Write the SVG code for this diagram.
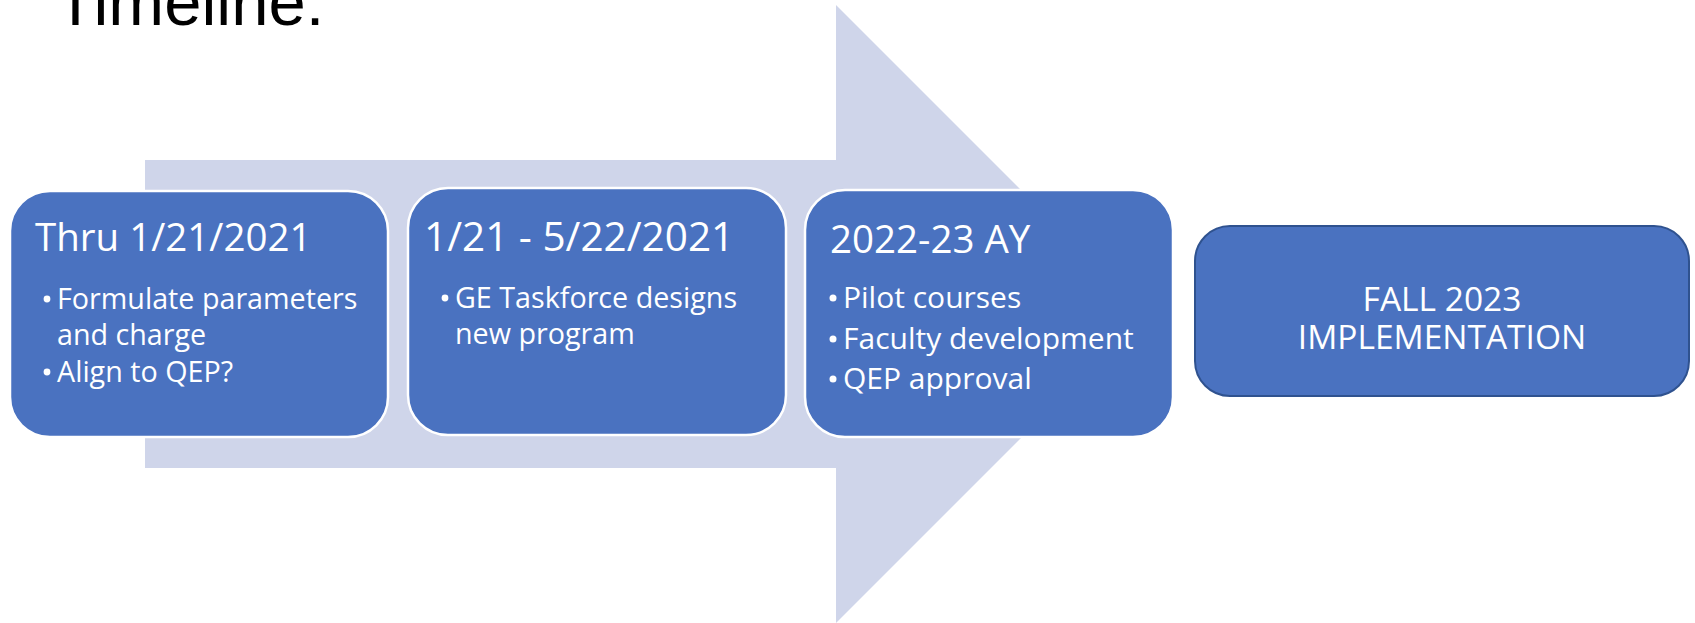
<svg xmlns="http://www.w3.org/2000/svg" width="1695" height="623" viewBox="0 0 1695 623">
<style>
.box{fill:#4A72C0;stroke:#FFFFFF;stroke-width:2.5}
.box4{fill:#4A72C0;stroke:#2F528F;stroke-width:2}
.hd{font-family:"Open Sans","Noto Sans",sans-serif;font-size:38.5px;fill:#FFFFFF}
.hd2{font-family:"Open Sans","Noto Sans",sans-serif;font-size:40.5px;fill:#FFFFFF}
.bl{font-family:"Open Sans","Noto Sans",sans-serif;font-size:28.7px;fill:#FFFFFF}
.bl3{font-family:"Open Sans","Noto Sans",sans-serif;font-size:30px;fill:#FFFFFF}
.dot{fill:#FFFFFF}
.ct{font-family:"Open Sans","Noto Sans",sans-serif;font-size:33.5px;fill:#FFFFFF;text-anchor:middle}
.ttl{font-family:"Liberation Sans",Arial,sans-serif;font-size:67px;fill:#000000}
</style>
<rect width="1695" height="623" fill="#FFFFFF"/>
<text class="ttl" x="55" y="25">Timeline:</text>
<g id="arrow">
<polygon points="145,160 836,160 836,5 1145,314 836,623 836,468 145,468" fill="#CFD5EA"/>
</g>
<g id="node1">
<rect class="box" x="10" y="191" width="378" height="246" rx="40"/>
<text class="hd" x="35" y="251">Thru 1/21/2021</text>
<circle class="dot" cx="47" cy="299" r="3.4"/>
<text class="bl" x="57" y="309">Formulate parameters</text>
<text class="bl" x="57" y="345">and charge</text>
<circle class="dot" cx="47" cy="372" r="3.4"/>
<text class="bl" x="57" y="382">Align to QEP?</text>
</g>
<g id="node2">
<rect class="box" x="408" y="188" width="378" height="247" rx="40"/>
<text class="hd2" x="424" y="251">1/21 - 5/22/2021</text>
<circle class="dot" cx="445" cy="298" r="3.4"/>
<text class="bl" x="455" y="308">GE Taskforce designs</text>
<text class="bl" x="455" y="344">new program</text>
</g>
<g id="node3">
<rect class="box" x="805" y="190" width="368" height="247" rx="40"/>
<text class="hd" x="830" y="253">2022-23 AY</text>
<circle class="dot" cx="833" cy="298" r="3.5"/>
<text class="bl3" x="843" y="308">Pilot courses</text>
<circle class="dot" cx="833" cy="339" r="3.5"/>
<text class="bl3" x="843" y="349">Faculty development</text>
<circle class="dot" cx="833" cy="379" r="3.5"/>
<text class="bl3" x="843" y="389">QEP approval</text>
</g>
<g id="node4">
<rect class="box4" x="1195" y="226" width="494" height="170" rx="35"/>
<text class="ct" x="1442" y="311">FALL 2023</text>
<text class="ct" x="1442" y="349">IMPLEMENTATION</text>
</g>
<g id="connectors"></g>
</svg>
